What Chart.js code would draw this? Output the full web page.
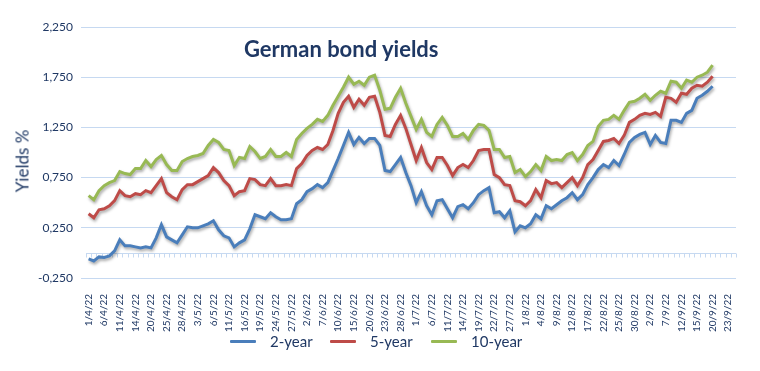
<!DOCTYPE html>
<html>
<head>
<meta charset="utf-8">
<script src="https://cdn.jsdelivr.net/npm/chart.js@4.4.1/dist/chart.umd.min.js"></script>
<style>
  html, body { margin: 0; padding: 0; background: #fff; }
  #wrap { position: relative; width: 760px; height: 371px; overflow: hidden; }
  canvas { position: absolute; left: 0; top: 0; }
  .txt { position: absolute; font-family: Lato, "Open Sans", sans-serif; color: #1F3864; white-space: nowrap; }
  #title { left: 244px; top: 35px; font-size: 22px; font-weight: bold; }
  #ytitle { left: 22px; top: 161px; font-size: 17px; transform: translate(-50%, -50%) rotate(-90deg); }
  .lg { position: absolute; top: 332px; height: 18px; display: flex; align-items: center; font-family: Lato, "Open Sans", sans-serif; font-size: 15px; color: #1F3864; }
  .sw { width: 26px; height: 3px; margin-right: 14px; border-radius: 1px; }
</style>
</head>
<body>
<div id="wrap">
  <canvas id="c" width="760" height="371"></canvas>
  <div id="title" class="txt">German bond yields</div>
  <div id="ytitle" class="txt">Yields %</div>
  <div id="legend"></div>
</div>
<script>
// ---- data ----
const dateLabels = [
  "1/4/22","4/4/22","5/4/22","6/4/22","7/4/22","8/4/22","11/4/22","12/4/22","13/4/22","14/4/22",
  "18/4/22","19/4/22","20/4/22","21/4/22","22/4/22","25/4/22","26/4/22","27/4/22","28/4/22","29/4/22",
  "2/5/22","3/5/22","4/5/22","5/5/22","6/5/22","9/5/22","10/5/22","11/5/22","12/5/22","13/5/22",
  "16/5/22","17/5/22","18/5/22","19/5/22","20/5/22","23/5/22","24/5/22","25/5/22","26/5/22","27/5/22",
  "30/5/22","31/5/22","2/6/22","3/6/22","6/6/22","7/6/22","8/6/22","9/6/22","10/6/22","13/6/22",
  "14/6/22","15/6/22","16/6/22","17/6/22","20/6/22","21/6/22","22/6/22","23/6/22","24/6/22","27/6/22",
  "28/6/22","29/6/22","30/6/22","1/7/22","4/7/22","5/7/22","6/7/22","7/7/22","8/7/22","11/7/22",
  "12/7/22","13/7/22","14/7/22","15/7/22","18/7/22","19/7/22","20/7/22","21/7/22","22/7/22","25/7/22",
  "26/7/22","27/7/22","28/7/22","29/7/22","1/8/22","2/8/22","3/8/22","4/8/22","5/8/22","8/8/22",
  "9/8/22","10/8/22","11/8/22","12/8/22","15/8/22","16/8/22","17/8/22","18/8/22","19/8/22","22/8/22",
  "23/8/22","24/8/22","25/8/22","26/8/22","29/8/22","30/8/22","31/8/22","1/9/22","2/9/22","5/9/22",
  "6/9/22","7/9/22","8/9/22","9/9/22","12/9/22","13/9/22","14/9/22","15/9/22","16/9/22","19/9/22",
  "20/9/22","21/9/22","22/9/22","23/9/22","26/9/22"
];

const twoYear = [
  -0.06,-0.08,-0.04,-0.045,-0.03,0.02,0.13,0.07,0.07,0.06,
  0.05,0.06,0.05,0.15,0.28,0.16,0.13,0.10,0.18,0.26,
  0.25,0.25,0.27,0.29,0.32,0.23,0.17,0.15,0.06,0.10,
  0.13,0.24,0.38,0.36,0.34,0.40,0.36,0.33,0.33,0.34,
  0.49,0.53,0.61,0.64,0.68,0.65,0.70,0.82,0.94,1.07,
  1.20,1.08,1.15,1.09,1.14,1.14,1.07,0.82,0.81,0.88,
  0.95,0.80,0.67,0.50,0.61,0.47,0.38,0.52,0.53,0.44,
  0.35,0.46,0.48,0.44,0.50,0.58,0.62,0.65,0.40,0.41,
  0.35,0.42,0.21,0.27,0.25,0.29,0.38,0.34,0.47,0.44,
  0.48,0.52,0.55,0.60,0.53,0.58,0.68,0.75,0.83,0.88,
  0.85,0.92,0.87,0.98,1.10,1.15,1.18,1.20,1.08,1.17,
  1.10,1.09,1.32,1.32,1.30,1.39,1.42,1.54,1.57,1.61,
  1.66
];

const fiveYear = [
  0.39,0.35,0.43,0.44,0.47,0.52,0.62,0.57,0.56,0.59,
  0.58,0.62,0.60,0.67,0.74,0.60,0.56,0.53,0.63,0.68,
  0.68,0.71,0.74,0.77,0.85,0.80,0.72,0.67,0.57,0.61,
  0.62,0.74,0.73,0.68,0.67,0.74,0.67,0.67,0.68,0.67,
  0.84,0.89,0.97,1.02,1.05,1.03,1.08,1.22,1.39,1.50,
  1.56,1.45,1.53,1.47,1.55,1.56,1.40,1.17,1.16,1.28,
  1.37,1.24,1.08,0.92,1.05,0.90,0.83,0.95,0.95,0.87,
  0.77,0.85,0.88,0.85,0.92,1.02,1.03,1.03,0.78,0.75,
  0.68,0.67,0.52,0.51,0.47,0.52,0.63,0.55,0.72,0.69,
  0.70,0.65,0.70,0.75,0.67,0.75,0.88,0.93,1.02,1.11,
  1.12,1.14,1.09,1.17,1.30,1.33,1.37,1.39,1.38,1.40,
  1.36,1.55,1.54,1.50,1.59,1.58,1.64,1.67,1.66,1.70,
  1.76
];

const tenYear = [
  0.57,0.53,0.62,0.67,0.70,0.72,0.81,0.79,0.78,0.84,
  0.84,0.92,0.86,0.93,0.97,0.88,0.82,0.82,0.91,0.94,
  0.96,0.97,0.99,1.07,1.13,1.10,1.03,1.02,0.87,0.95,
  0.94,1.06,1.01,0.94,0.96,1.03,0.96,0.96,1.00,0.96,
  1.13,1.19,1.24,1.28,1.33,1.31,1.37,1.47,1.56,1.65,
  1.75,1.68,1.71,1.67,1.75,1.77,1.62,1.43,1.44,1.55,
  1.64,1.49,1.36,1.23,1.33,1.20,1.16,1.28,1.35,1.27,
  1.16,1.16,1.19,1.13,1.22,1.28,1.27,1.22,1.03,1.03,
  0.95,0.96,0.80,0.83,0.76,0.81,0.88,0.82,0.96,0.92,
  0.93,0.92,0.98,1.00,0.92,0.98,1.07,1.11,1.26,1.32,
  1.33,1.37,1.33,1.42,1.50,1.51,1.54,1.58,1.52,1.57,
  1.61,1.59,1.71,1.70,1.64,1.72,1.70,1.75,1.77,1.80,
  1.87
];

const seriesNames = ["2-year", "5-year", "10-year"];
const seriesColors = ["#4A7EBB", "#BE4B48", "#98B954"];
const yTickValues = [-0.25, 0.25, 0.75, 1.25, 1.75, 2.25];

// ---- styling ----
const navy = "#1F3864";
const gridColor = "#C6D9F1";

const shadowPlugin = {
  id: 'lineShadow',
  beforeDatasetDraw(chart) {
    const ctx = chart.ctx;
    ctx.save();
    ctx.shadowColor = 'rgba(0,0,0,0.35)';
    ctx.shadowBlur = 3;
    ctx.shadowOffsetX = 1;
    ctx.shadowOffsetY = 2;
  },
  afterDatasetDraw(chart) { chart.ctx.restore(); }
};

const zeroAxisPlugin = {
  id: 'zeroAxis',
  beforeDatasetsDraw(chart) {
    const {ctx, chartArea, scales} = chart;
    const xs = scales.x, ys = scales.y;
    const y0 = Math.round(ys.getPixelForValue(0)) + 0.5;
    const n = chart.data.labels.length;
    const half = (xs.getPixelForValue(1) - xs.getPixelForValue(0)) / 2;
    ctx.save();
    ctx.strokeStyle = gridColor;
    ctx.lineWidth = 1;
    ctx.beginPath();
    ctx.moveTo(chartArea.left, y0);
    ctx.lineTo(chartArea.right, y0);
    for (let i = 0; i <= n; i++) {
      const xx = Math.round(xs.getPixelForValue(i) - half) + 0.5;
      ctx.moveTo(xx, y0);
      ctx.lineTo(xx, y0 + 4);
    }
    ctx.stroke();
    ctx.restore();
  }
};

const seriesData = [twoYear, fiveYear, tenYear];

new Chart(document.getElementById('c'), {
  type: 'line',
  data: {
    labels: dateLabels,
    datasets: seriesNames.map((name, i) => ({
      label: name,
      data: seriesData[i],
      borderColor: seriesColors[i],
      backgroundColor: seriesColors[i],
      borderWidth: 3,
      pointRadius: 0,
      tension: 0,
      fill: false
    }))
  },
  options: {
    responsive: false,
    animation: false,
    devicePixelRatio: 1,
    layout: { padding: { top: 27, right: 24, bottom: 0, left: 0 } },
    plugins: {
      legend: { display: false },
      title: { display: false },
      tooltip: { enabled: false }
    },
    scales: {
      x: {
        type: 'category',
        offset: true,
        grid: { display: false },
        border: { display: false },
        afterFit(scale) { scale.height = 93; },
        ticks: {
          autoSkip: false,
          maxRotation: 90,
          minRotation: 90,
          padding: 8,
          color: navy,
          font: { family: 'Lato', size: 10 },
          callback(value, index) {
            return index % 3 === 0 ? this.getLabelForValue(value) : '';
          }
        }
      },
      y: {
        min: -0.25,
        max: 2.25,
        afterFit(scale) { scale.width = 86; },
        afterBuildTicks(scale) { scale.ticks = yTickValues.map(v => ({ value: v })); },
        grid: { color: gridColor, lineWidth: 1, tickLength: 5, drawTicks: true },
        border: { display: false },
        ticks: {
          padding: 8,
          color: navy,
          font: { family: 'Lato', size: 12 },
          callback(v) { return Number(v).toFixed(3).replace('.', ','); }
        }
      }
    }
  },
  plugins: [zeroAxisPlugin, shadowPlugin]
});

// ---- legend (HTML, built from series names/colors) ----
const legendLeft = [230, 330, 431];
const legend = document.getElementById('legend');
seriesNames.forEach((name, i) => {
  const item = document.createElement('div');
  item.className = 'lg';
  item.style.left = legendLeft[i] + 'px';
  const sw = document.createElement('div');
  sw.className = 'sw';
  sw.style.background = seriesColors[i];
  const t = document.createElement('span');
  t.textContent = name;
  item.appendChild(sw);
  item.appendChild(t);
  legend.appendChild(item);
});
</script>
</body>
</html>
